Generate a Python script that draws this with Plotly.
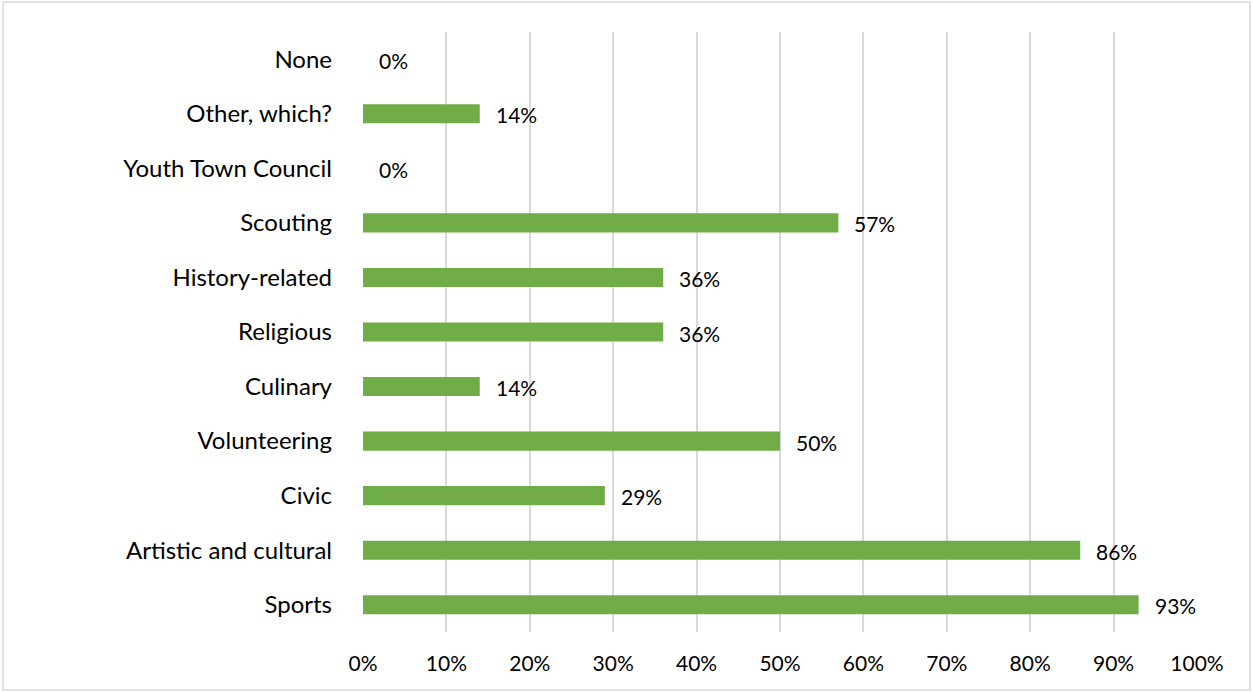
import plotly.graph_objects as go

# Share of respondents taking part in each activity type (bottom to top)
categories = [
    "Sports", "Artistic and cultural", "Civic", "Volunteering", "Culinary",
    "Religious", "History-related", "Scouting", "Youth Town Council",
    "Other, which?", "None",
]
values = [93, 86, 29, 50, 14, 36, 36, 57, 0, 14, 0]
x_ticks = list(range(0, 101, 10))
x_tick_labels = [f"{t}%" for t in x_ticks]

W, H = 1253, 693
L, R, T, B = 363, 56, 32, 61
FONT = "Lato"

fig = go.Figure()
fig.add_trace(go.Bar(
    y=categories, x=values, orientation="h",
    marker=dict(color="#70ad47", line=dict(width=0)),
    width=0.35, hoverinfo="skip",
))

for c, v in zip(categories, values):
    fig.add_annotation(
        x=v, y=c, text=f"{v}%", showarrow=False,
        xanchor="left", yanchor="middle", xshift=14, yshift=-1,
        font=dict(family=FONT, size=21, color="#000000"),
    )

# Outer chart border
pw, ph = W - L - R, H - T - B
fig.add_shape(
    type="rect", xref="paper", yref="paper",
    x0=(3 - L) / pw, x1=(1250 - L) / pw,
    y0=1 - (690 - T) / ph, y1=1 - (2 - T) / ph,
    line=dict(color="#d9d9d9", width=1.5), fillcolor="rgba(0,0,0,0)",
    layer="below",
)

fig.update_layout(
    width=W, height=H,
    margin=dict(l=L, r=R, t=T, b=B, autoexpand=False),
    paper_bgcolor="white", plot_bgcolor="white",
    showlegend=False,
    font=dict(family=FONT, size=21, color="#000000"),
    xaxis=dict(
        range=[0, 100], tickvals=x_ticks, ticktext=x_tick_labels,
        showgrid=True, gridcolor="#d9d9d9", gridwidth=1.5,
        zeroline=False, showline=False, ticks="",
        tickfont=dict(family=FONT, size=21, color="#000000"),
        ticklabelstandoff=17, fixedrange=True,
    ),
    yaxis=dict(
        categoryorder="array", categoryarray=categories,
        range=[-0.5, len(categories) - 0.5],
        showgrid=False, zeroline=False, showline=False, ticks="",
        tickfont=dict(family=FONT, size=24, color="#000000"),
        ticklabelstandoff=30, fixedrange=True,
    ),
)

fig.write_html("out.html")
